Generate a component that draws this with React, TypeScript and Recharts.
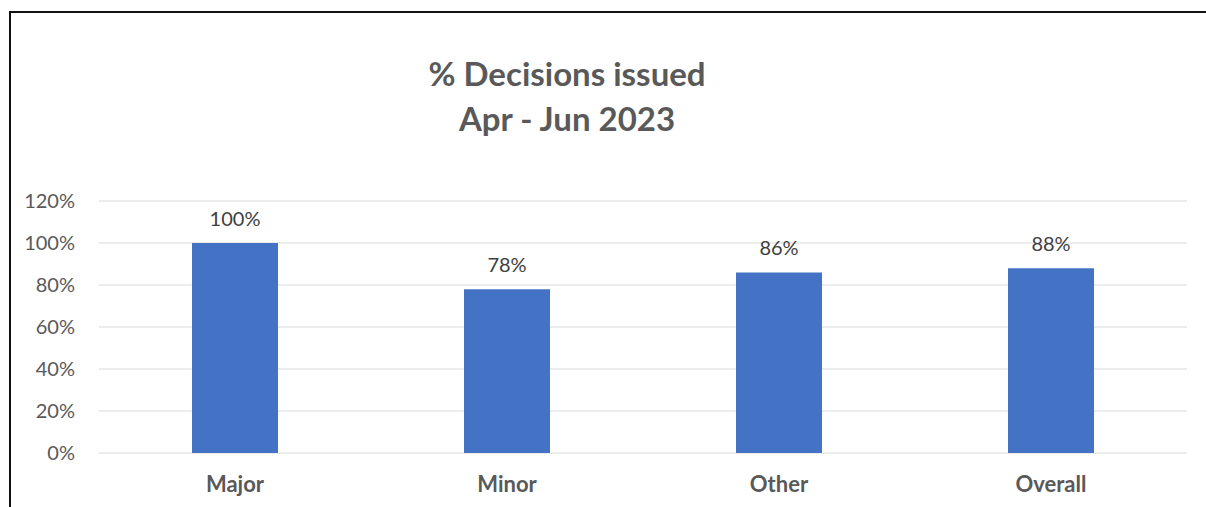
import React from "react";
import { BarChart, Bar, XAxis, YAxis, CartesianGrid, LabelList } from "recharts";

const categories = ["Major", "Minor", "Other", "Overall"];
const percentIssued = [1.0, 0.78, 0.86, 0.88];
const yTicks = [0, 0.2, 0.4, 0.6, 0.8, 1.0, 1.2];
const titleLines = ["% Decisions issued", "Apr - Jun 2023"];

const data = categories.map((c, i) => ({ name: c, value: percentIssued[i] }));

const FONT = "Lato, 'Open Sans', sans-serif";
const pct = (v: number) => `${Math.round(v * 100)}%`;

export default function App() {
  return (
    <div style={{ position: "absolute", left: 0, top: 0, width: 1206, height: 507, background: "#fff", overflow: "hidden", fontFamily: FONT }}>
      <div style={{ position: "absolute", left: 9, top: 11, width: 1197, height: 2, background: "#111" }} />
      <div style={{ position: "absolute", left: 9, top: 11, width: 2, height: 496, background: "#111" }} />
      <div style={{ position: "absolute", left: 267, width: 600, top: 51, textAlign: "center", color: "#595959", fontWeight: 700, fontSize: 33, lineHeight: "45px" }}>
        {titleLines.map((t) => (
          <div key={t}>{t}</div>
        ))}
      </div>
      <div style={{ position: "absolute", left: 0, top: 0 }}>
        <BarChart width={1206} height={507} data={data} margin={{ top: 201, right: 19, bottom: 0, left: 10 }}>
          <CartesianGrid vertical={false} stroke="#D9D9D9" strokeWidth={1} />
          <XAxis
            dataKey="name"
            axisLine={false}
            tickLine={false}
            tickSize={0}
            tickMargin={23}
            height={54}
            tick={{ fill: "#595959", fontSize: 22, fontWeight: 700, fontFamily: FONT }}
          />
          <YAxis
            domain={[0, 1.2]}
            ticks={yTicks}
            tickFormatter={pct}
            axisLine={false}
            tickLine={false}
            tickSize={0}
            tickMargin={24}
            width={89}
            interval={0}
            tick={{ fill: "#595959", fontSize: 20, fontFamily: FONT }}
          />
          <Bar dataKey="value" fill="#4472C4" barSize={86} isAnimationActive={false}>
            <LabelList dataKey="value" position="top" offset={17} formatter={(v: any) => pct(Number(v))} fill="#404040" fontSize={20} fontFamily={FONT} />
          </Bar>
        </BarChart>
      </div>
    </div>
  );
}
